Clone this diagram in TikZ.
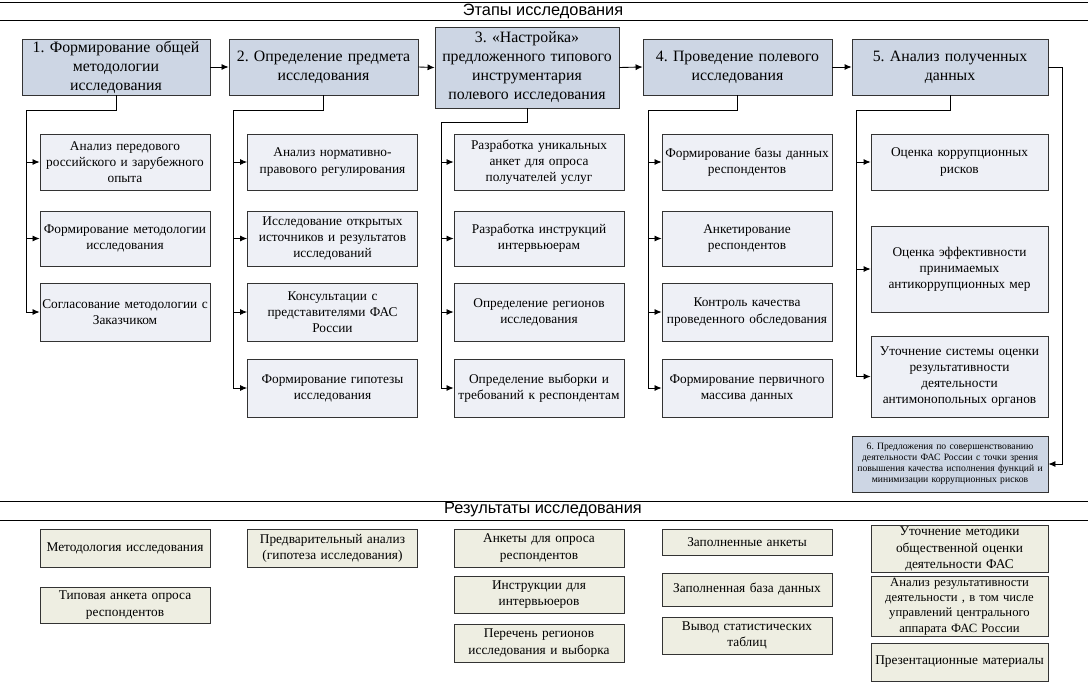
\documentclass[tikz,border=0pt]{standalone}
\usepackage{fontspec}
\setmainfont{Liberation Serif}
\newfontfamily\headfont{Liberation Sans}
\usetikzlibrary{arrows.meta}
\definecolor{stagefill}{RGB}{205,214,228}
\definecolor{taskfill}{RGB}{238,240,246}
\definecolor{resfill}{RGB}{238,238,226}
\frenchspacing

\begin{document}
\begin{tikzpicture}[x=0.02cm, y=-0.02cm,
    stage/.style={draw=black!80, line width=0.5pt, fill=stagefill, align=center, inner xsep=0.02cm, inner ysep=1pt, font=\fontsize{9}{10.8}\selectfont},
    task/.style={draw=black!80, line width=0.5pt, fill=taskfill, align=center, text width=3.36cm, inner xsep=0.02cm, inner ysep=1pt, font=\fontsize{7.6}{9.2}\selectfont},
    result/.style={task, fill=resfill},
    headline/.style={font=\headfont\fontsize{9.3}{11}\selectfont},
    link/.style={line width=0.5pt, -{Latex[length=4pt,width=3.5pt]}},
    tree/.style={line width=0.5pt}]
        \useasboundingbox (0,0) rectangle (1088,683);
        % section headers
        \draw[line width=0.5pt] (0,2)   -- (1088,2);
        \draw[line width=0.5pt] (0,20)  -- (1088,20);
        \draw[line width=0.5pt] (0,501) -- (1088,501);
        \draw[line width=0.5pt] (0,520) -- (1088,520);
        \node[headline] (stages)  at (543,11)  {Этапы исследования};
        \node[headline] (results) at (543,510) {Результаты исследования};

        % stages
        \node[stage, text width=3.72cm, minimum height=1.12cm] (s1) at (116,67)   {1. Формирование общей\\методологии\\исследования};
        \node[stage, text width=3.74cm, minimum height=1.12cm] (s2) at (323.5,67) {2. Определение предмета\\исследования};
        \node[stage, text width=3.64cm, minimum height=1.62cm] (s3) at (527,67.5)  {3. «Настройка»\\предложенного типового\\инструментария\\полевого исследования};
        \node[stage, text width=3.74cm, minimum height=1.12cm] (s4) at (737.5,67) {4. Проведение полевого\\исследования};
        \node[stage, text width=3.88cm, minimum height=1.12cm] (s5) at (950,67)   {5. Анализ полученных\\данных};
        \node[stage, text width=3.88cm, minimum height=1.12cm, font=\fontsize{5.5}{6.3}\selectfont] (s6) at (950,464) {6. Предложения по совершенствованию\\деятельности ФАС России с точки зрения\\повышения качества исполнения функций и\\минимизации коррупционных рисков};

        % tasks of stage 1
        \node[task, minimum height=1.12cm] (c1a) at (125,162)   {Анализ передового\\российского и зарубежного\\опыта};
        \node[task, minimum height=1.10cm] (c1b) at (125,238.5) {Формирование методологии\\исследования};
        \node[task, minimum height=1.16cm] (c1c) at (125,312)   {Согласование методологии с\\Заказчиком};
        % tasks of stage 2
        \node[task, minimum height=1.12cm] (c2a) at (332.5,162)   {Анализ нормативно-\\правового регулирования};
        \node[task, minimum height=1.10cm] (c2b) at (332.5,238.5) {Исследование открытых\\источников и результатов\\исследований};
        \node[task, minimum height=1.16cm] (c2c) at (332.5,312)   {Консультации с\\представителями ФАС\\России};
        \node[task, minimum height=1.16cm] (c2d) at (332.5,388)   {Формирование гипотезы\\исследования};
        % tasks of stage 3
        \node[task, minimum height=1.12cm] (c3a) at (539,162)   {Разработка уникальных\\анкет для опроса\\получателей услуг};
        \node[task, minimum height=1.10cm] (c3b) at (539,238.5) {Разработка инструкций\\интервьюерам};
        \node[task, minimum height=1.16cm] (c3c) at (539,312)   {Определение регионов\\исследования};
        \node[task, minimum height=1.16cm] (c3d) at (539,388)   {Определение выборки и\\требований к респондентам};
        % tasks of stage 4
        \node[task, minimum height=1.12cm] (c4a) at (747,162)   {Формирование базы данных\\респондентов};
        \node[task, minimum height=1.10cm] (c4b) at (747,238.5) {Анкетирование\\респондентов};
        \node[task, minimum height=1.16cm] (c4c) at (747,312)   {Контроль качества\\проведенного обследования};
        \node[task, minimum height=1.16cm] (c4d) at (747,388)   {Формирование первичного\\массива данных};
        % tasks of stage 5
        \node[task, text width=3.5cm, minimum height=1.12cm] (c5a) at (959.5,162)   {Оценка коррупционных\\рисков};
        \node[task, text width=3.5cm, minimum height=1.72cm] (c5b) at (959.5,269)   {Оценка эффективности\\принимаемых\\антикоррупционных мер};
        \node[task, text width=3.5cm, minimum height=1.62cm] (c5c) at (959.5,376.5) {Уточнение системы оценки\\результативности\\деятельности\\антимонопольных органов};

        % results
        \node[result, minimum height=0.76cm] (r1a) at (125,548) {Методология исследования};
        \node[result, minimum height=0.72cm] (r1b) at (125,605) {Типовая анкета опроса\\респондентов};
        \node[result, minimum height=0.76cm] (r2a) at (332.5,548) {Предварительный анализ\\(гипотеза исследования)};
        \node[result, minimum height=0.76cm] (r3a) at (539,548)   {Анкеты для опроса\\респондентов};
        \node[result, minimum height=0.74cm] (r3b) at (539,594.5) {Инструкции для\\интервьюеров};
        \node[result, minimum height=0.76cm] (r3c) at (539,643)   {Перечень регионов\\исследования и выборка};
        \node[result, minimum height=0.52cm] (r4a) at (747,542)   {Заполненные анкеты};
        \node[result, minimum height=0.66cm] (r4b) at (747,589.5) {Заполненная база данных};
        \node[result, minimum height=0.74cm] (r4c) at (747,635.5) {Вывод статистических\\таблиц};
        \node[result, text width=3.5cm, minimum height=0.92cm] (r5a) at (959.5,549)   {Уточнение методики\\общественной оценки\\деятельности ФАС};
        \node[result, text width=3.5cm, minimum height=1.10cm, font=\fontsize{7.2}{8.7}\selectfont] (r5b) at (959.5,606.5) {Анализ результативности\\деятельности , в том числе\\управлений центрального\\аппарата ФАС России};
        \node[result, text width=3.5cm, minimum height=0.76cm] (r5c) at (959.5,662)   {Презентационные материалы};

        % stage chain
        \draw[link] (s1.east) -- (s2.west);
        \draw[link] (s2.east) -- (s3.west);
        \draw[link] (s3.east) -- (s4.west);
        \draw[link] (s4.east) -- (s5.west);
        \coordinate (bend6) at (1062,67);
        \draw[link] (s5.east) -- (bend6) |- (s6.east);

        % trees
        \coordinate (t1) at (26,110);
        \coordinate (t2) at (233,110);
        \coordinate (t3) at (441,122);
        \coordinate (t4) at (648,110);
        \coordinate (t5) at (856,110);
        \draw[tree] (s1.south) |- (t1) -- (t1 |- c1c.west);
        \draw[tree] (s2.south) |- (t2) -- (t2 |- c2d.west);
        \draw[tree] (s3.south) |- (t3) -- (t3 |- c3d.west);
        \draw[tree] (s4.south) |- (t4) -- (t4 |- c4d.west);
        \draw[tree] (s5.south) |- (t5) -- (t5 |- c5c.west);
        \draw[link] (t1 |- c1a.west) -- (c1a.west);
        \draw[link] (t1 |- c1b.west) -- (c1b.west);
        \draw[link] (t1 |- c1c.west) -- (c1c.west);
        \draw[link] (t2 |- c2a.west) -- (c2a.west);
        \draw[link] (t2 |- c2b.west) -- (c2b.west);
        \draw[link] (t2 |- c2c.west) -- (c2c.west);
        \draw[link] (t2 |- c2d.west) -- (c2d.west);
        \draw[link] (t3 |- c3a.west) -- (c3a.west);
        \draw[link] (t3 |- c3b.west) -- (c3b.west);
        \draw[link] (t3 |- c3c.west) -- (c3c.west);
        \draw[link] (t3 |- c3d.west) -- (c3d.west);
        \draw[link] (t4 |- c4a.west) -- (c4a.west);
        \draw[link] (t4 |- c4b.west) -- (c4b.west);
        \draw[link] (t4 |- c4c.west) -- (c4c.west);
        \draw[link] (t4 |- c4d.west) -- (c4d.west);
        \draw[link] (t5 |- c5a.west) -- (c5a.west);
        \draw[link] (t5 |- c5b.west) -- (c5b.west);
        \draw[link] (t5 |- c5c.west) -- (c5c.west);
\end{tikzpicture}
\end{document}
